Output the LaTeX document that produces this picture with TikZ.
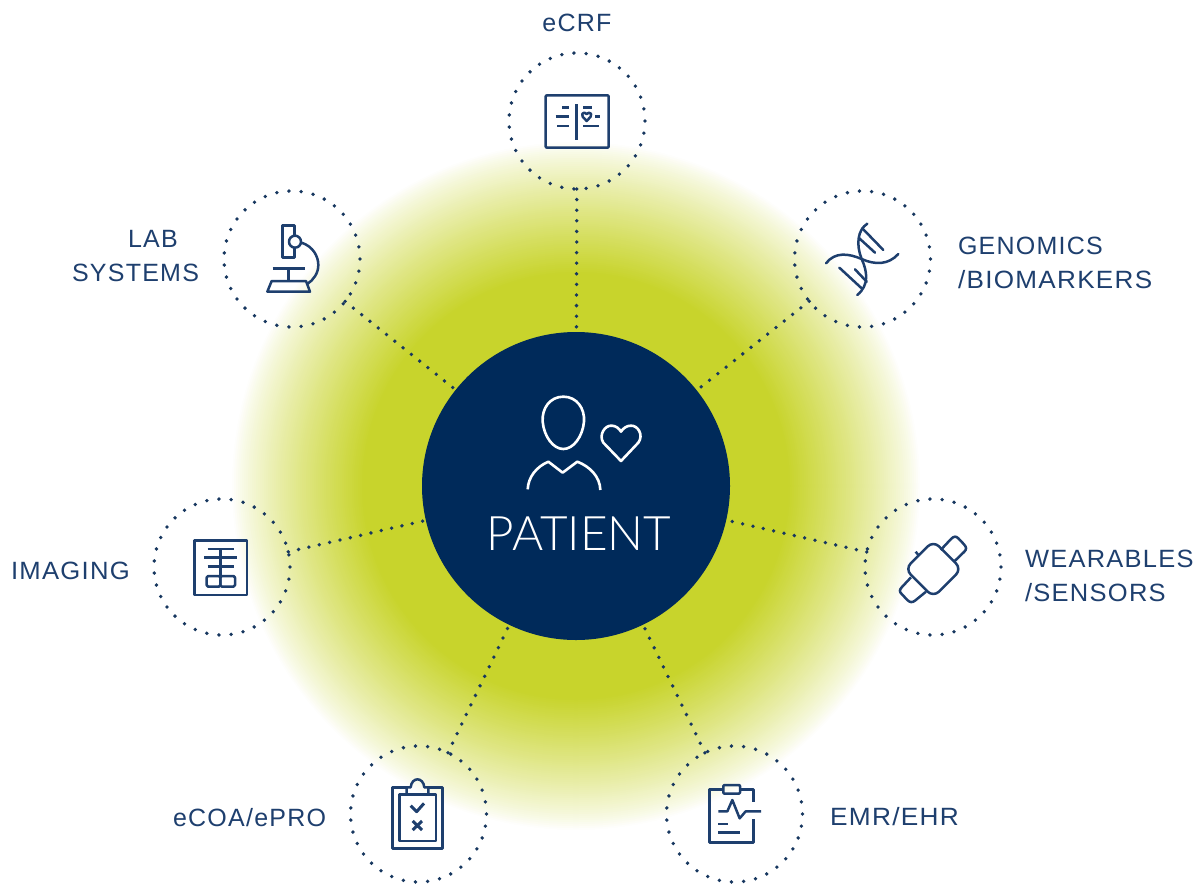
\documentclass[tikz,border=0pt]{standalone}
\usepackage{fontspec}
\usepackage{graphicx}
\setmainfont{Liberation Sans}
\newfontfamily\labfont[LetterSpace=5]{Liberation Sans}
\newfontfamily\patfont{Lato Light}
\definecolor{navy}{HTML}{002A5A}
\definecolor{ink}{HTML}{1E3F6E}
\definecolor{dotc}{HTML}{17375F}
\definecolor{lime}{HTML}{C8D42C}
\tikzset{
 hub/.style={circle,inner sep=0pt,outer sep=0pt,minimum size=136pt,draw=dotc,line width=3.8pt,line cap=round,dash pattern=on 0pt off 12.207pt},
 core/.style={circle,inner sep=0pt,outer sep=0pt,minimum size=308pt,fill=navy},
 conn/.style={draw=dotc,line width=3.8pt,line cap=round,dash pattern=on 0pt off 10.6pt},
 lab/.style={inner sep=0pt,outer sep=0pt,text=ink,font=\labfont\fontsize{25}{25}\selectfont},
 ico/.style={draw=ink,line width=2.5pt,line join=round},
 wico/.style={draw=white,line width=2.6pt,line join=round},
 zoomed/.style={shift={#1},x=0.33333pt,y=-0.33333pt}
}
\begin{document}
\begin{tikzpicture}[x=1pt,y=-1pt]
\useasboundingbox (0,0) rectangle (1204,884);
\foreach \r in {344,342,...,212}{
 \pgfmathsetmacro{\p}{min(100,100*pow((345-\r)/132,0.85))}
 \fill[lime!\p!white] (576,486) circle (\r);
}
\node[hub] (ecrf) at (577,121) {};
\node[hub] (geno) at (862.5,259) {};
\node[hub] (labs) at (292,259) {};
\node[hub] (imag) at (222,567) {};
\node[hub] (wear) at (933,567) {};
\node[hub] (ecoa) at (418.5,814) {};
\node[hub] (emr) at (734.5,814) {};
\node[core] (pat) at (576,486) {};
\foreach \n in {ecrf,geno,labs,imag,wear,ecoa,emr}{\draw[conn] (\n) -- (pat);}
% labels
\node[lab,anchor=base] (t1) at (577,31) {eCRF};
\node[lab,anchor=base west] (t2) at (958,254) {GENOMICS};
\node[lab,anchor=base west] (t3) at (958,288) {\scalebox{1.043}[1]{/BIOMARKERS}};
\node[lab,anchor=base west] (t4) at (128,247) {LAB};
\node[lab,anchor=base west] (t5) at (72,281) {SYSTEMS};
\node[lab,anchor=base west] (t6) at (11,579) {\scalebox{1.026}[1]{IMAGING}};
\node[lab,anchor=base west] (t7) at (1025,567) {\scalebox{1.018}[1]{WEARABLES}};
\node[lab,anchor=base west] (t8) at (1025,601) {\scalebox{1.02}[1]{/SENSORS}};
\node[lab,anchor=base west] (t9) at (173,826) {eCOA/ePRO};
\node[lab,anchor=base west] (t10) at (830,825) {\scalebox{1.05}[1]{EMR/EHR}};
\node[inner sep=0pt,anchor=base,text=white,font=\patfont\fontsize{47.6}{48}\selectfont] (t11) at (579,550) {PATIENT};
% eCRF icon
\begin{scope}[zoomed={(500,0)}]
\draw[ico,rounded corners=1pt] (137,286) rectangle (326,443);
\draw[ico] (229,313)--(229,420) (186,322)--(208,322) (167,350)--(208,350) (172,378)--(208,378)
 (250,322)--(277,322) (250,378)--(297,378) (285,350)--(301,350);
\draw[ico] (260,363)--(248,350) .. controls (243,343) and (248,338) .. (253,338) .. controls (256,338) and (259,340) .. (260,342) .. controls (261,340) and (264,338) .. (267,338) .. controls (272,338) and (277,343) .. (272,350) -- cycle;
\end{scope}
% DNA
\begin{scope}[zoomed={(780,180)}]
\draw[ico,line cap=round] (138,250) .. controls (165,215) and (205,220) .. (245,237) .. controls (285,255) and (325,255) .. (355,222);
\draw[ico,line cap=round] (262,131) .. controls (232,150) and (228,195) .. (245,237) .. controls (262,275) and (268,315) .. (232,345);
\draw[ico,line cap=round] (247,145)--(310,210) (238,175)--(285,218) (178,263)--(245,325) (225,268)--(260,305);
\end{scope}
% microscope
\begin{scope}[zoomed={(210,180)}]
\draw[ico] (217,137) rectangle (253,233);
\draw[ico,fill=white] (255,185) circle (18);
\draw[ico] (275,188) .. controls (310,200) and (325,230) .. (325,255) .. controls (325,280) and (310,300) .. (292,312);
\draw[ico] (188,265)--(284,265) (236,265)--(236,303);
\draw[ico] (172,335)--(185,303)--(288,303)--(300,335)--cycle;
\end{scope}
% imaging
\begin{scope}[zoomed={(140,490)}]
\draw[ico] (163,152) rectangle (321,315);
\draw[ico] (203,177)--(283,177) (192,203)--(292,203) (203,230)--(283,230) (241,177)--(241,258);
\draw[ico,rounded corners=1.5pt] (200,258) rectangle (241,290);
\draw[ico,rounded corners=1.5pt] (241,258) rectangle (285,290);
\end{scope}
% watch
\begin{scope}[zoomed={(850,490)}]
\draw[ico,rounded corners=8pt,rotate around={45:(250,237)}] (190,177) rectangle (310,297);
\draw[ico] (272,180) -- (303,147) .. controls (312,138) and (318,138) .. (325,145) -- (342,163) .. controls (350,172) and (350,178) .. (343,185) -- (312,215);
\draw[ico] (183,262) -- (155,292) .. controls (148,300) and (148,305) .. (155,312) -- (172,330) .. controls (180,338) and (187,338) .. (195,332) -- (228,305);
\draw[ico] (197,185)--(205,195);
\end{scope}
% clipboard
\begin{scope}[zoomed={(340,735)}]
\draw[ico] (200,157)--(157,157)--(157,340)--(308,340)--(308,157)--(265,157);
\draw[ico] (178,178) rectangle (288,318);
\draw[ico] (200,178)--(200,157)--(212,157) .. controls (215,125) and (250,125) .. (253,157) -- (265,157)--(265,178);
\draw[ico,line width=3pt] (212,212)--(230,230)--(252,205) (218,258)--(246,285) (246,258)--(218,285);
\end{scope}
% EMR
\begin{scope}[zoomed={(655,735)}]
\draw[ico] (205,163)--(163,163)--(163,322)--(296,322)--(296,252);
\draw[ico] (255,163)--(296,163)--(296,200);
\draw[ico,rounded corners=1pt] (205,150) rectangle (255,176);
\draw[ico] (190,229)--(217,229)--(232,195)--(254,250)--(272,229)--(318,229);
\draw[ico] (190,267)--(218,267) (190,293)--(256,293);
\end{scope}
% patient icon
\begin{scope}[zoomed={(470,380)}]
\draw[wico] (280,50) .. controls (320,50) and (345,85) .. (342,125) .. controls (338,170) and (310,207) .. (280,207) .. controls (250,207) and (222,170) .. (218,125) .. controls (215,85) and (240,50) .. (280,50) -- cycle;
\draw[wico] (173,328) .. controls (175,290) and (200,260) .. (235,245) -- (278,278) -- (322,245) .. controls (360,260) and (390,290) .. (391,330);
\draw[wico] (453,243) -- (400,188) .. controls (385,165) and (405,135) .. (425,137) .. controls (437,137) and (447,145) .. (453,155) .. controls (459,145) and (470,137) .. (482,137) .. controls (503,135) and (522,165) .. (505,188) -- cycle;
\end{scope}
\end{tikzpicture}
\end{document}
